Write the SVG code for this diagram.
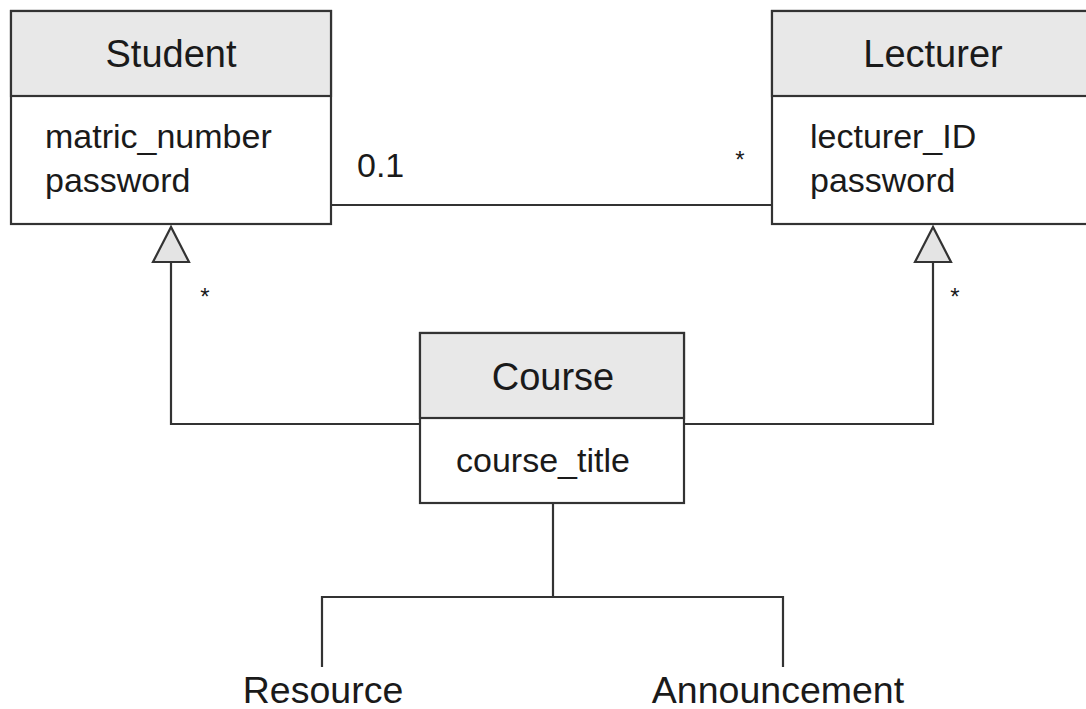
<svg xmlns="http://www.w3.org/2000/svg" width="1086" height="709" viewBox="0 0 1086 709">
<style>
.box{fill:#ffffff;stroke:#333;stroke-width:2.2}
.hdr{fill:#e8e8e8;stroke:#333;stroke-width:2.2}
.ln{fill:none;stroke:#333;stroke-width:2.2}
.tri{fill:#e4e4e4;stroke:#333;stroke-width:2.2;stroke-linejoin:miter}
.t{font-family:"Liberation Sans",Arial,sans-serif;fill:#1a1a1a}
.title{font-size:38px;text-anchor:middle}
.attr{font-size:34px}
.leaf{font-size:37.5px;text-anchor:middle}
.star{font-family:"Liberation Sans",Arial,sans-serif;font-size:24px;fill:#1a1a1a;text-anchor:middle}
</style>
<rect width="1086" height="709" fill="#ffffff"/>
<g id="connectors">
<line class="ln" x1="331" y1="205" x2="772" y2="205"/>
<polyline class="ln" points="171,262 171,424 420,424"/>
<polyline class="ln" points="933,262 933,424 684,424"/>
<polygon class="tri" points="171,227 153,262 189,262"/>
<polygon class="tri" points="933,227 915,262 951,262"/>
<line class="ln" x1="553" y1="503" x2="553" y2="597"/>
<polyline class="ln" points="322,667 322,597 783,597 783,667"/>
<text class="t attr" x="357" y="177">0.1</text>
<text class="star" x="740" y="168">*</text>
<text class="star" x="205" y="305">*</text>
<text class="star" x="955" y="305">*</text>
</g>
<g id="student">
<rect class="box" x="11" y="11" width="320" height="213"/>
<rect class="hdr" x="11" y="11" width="320" height="85"/>
<text class="t title" x="171" y="67">Student</text>
<text class="t attr" x="45" y="148">matric_number</text>
<text class="t attr" x="45" y="192">password</text>
</g>
<g id="lecturer">
<rect class="box" x="772" y="11" width="324" height="213"/>
<rect class="hdr" x="772" y="11" width="324" height="85"/>
<text class="t title" x="933" y="67">Lecturer</text>
<text class="t attr" x="810" y="148">lecturer_ID</text>
<text class="t attr" x="810" y="192">password</text>
</g>
<g id="course">
<rect class="box" x="420" y="333" width="264" height="170"/>
<rect class="hdr" x="420" y="333" width="264" height="85"/>
<text class="t title" x="553" y="390">Course</text>
<text class="t attr" x="456" y="472">course_title</text>
</g>
<g id="resource">
<text class="t leaf" x="323" y="703">Resource</text>
</g>
<g id="announcement">
<text class="t leaf" x="778" y="703">Announcement</text>
</g>
</svg>
